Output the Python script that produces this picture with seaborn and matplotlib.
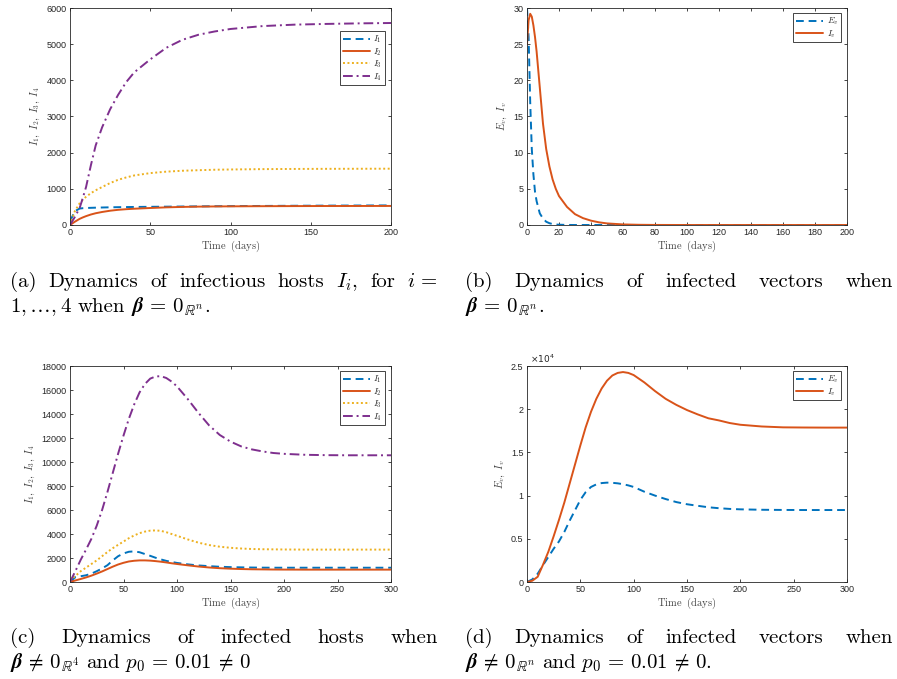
import numpy as np
import matplotlib
matplotlib.use("Agg")
import matplotlib.pyplot as plt
from matplotlib.ticker import FuncFormatter
import seaborn as sns

# ----------------------------
# Data
# ----------------------------
# (a) infectious hosts, beta = 0
t_a = [0, 3, 6, 8, 10, 13, 16, 20, 25, 30, 35, 40, 50, 60, 70, 80, 90, 100, 120, 140, 160, 180, 200]
I1_a = [100, 380, 455, 465, 470, 475, 479, 484, 489, 493, 496, 499, 503, 507, 511, 515, 519, 522, 527, 532, 536, 539, 542]
I2_a = [0, 90, 170, 210, 245, 290, 325, 360, 395, 420, 437, 450, 470, 488, 500, 508, 513, 516, 520, 523, 525, 526, 527]
I3_a = [0, 380, 600, 700, 780, 880, 960, 1050, 1160, 1250, 1315, 1370, 1435, 1475, 1500, 1515, 1528, 1535, 1545, 1550, 1553, 1555, 1557]
I4_a = [0, 220, 470, 750, 1050, 1650, 2200, 2700, 3200, 3600, 3950, 4220, 4580, 4900, 5120, 5260, 5350, 5420, 5500, 5540, 5560, 5575, 5585]

# (b) infected vectors, beta = 0
t_b = [0, 1, 2, 3, 4, 5, 6, 8, 10, 12, 14, 16, 18, 20, 25, 30, 35, 40, 45, 50, 60, 70, 80, 100, 120, 140, 160, 180, 200]
Ev_b = [30, 26, 17, 10.5, 7, 4.6, 3.3, 1.6, 0.9, 0.45, 0.25, 0.13, 0.07, 0.04, 0.01, 0, 0, 0, 0, 0, 0, 0, 0, 0, 0, 0, 0, 0, 0]
Iv_b = [25, 28.3, 29.2, 28.8, 27.6, 26, 24, 19, 14, 10.5, 8.1, 6.3, 5.0, 4.0, 2.5, 1.5, 0.95, 0.6, 0.37, 0.22, 0.08, 0.03, 0.01, 0, 0, 0, 0, 0, 0]

# (c) infected hosts, beta != 0
t_c = [0, 5, 10, 15, 20, 25, 30, 35, 40, 45, 50, 55, 60, 65, 70, 75, 80, 85, 90, 95, 100,
       110, 120, 130, 140, 150, 160, 170, 180, 190, 200, 220, 240, 260, 280, 300]
I1_c = [0, 400, 480, 560, 700, 900, 1130, 1400, 1800, 2150, 2380, 2520, 2550, 2480, 2330, 2180, 2020, 1880, 1760, 1670, 1590,
        1470, 1380, 1320, 1270, 1240, 1220, 1205, 1195, 1190, 1190, 1190, 1190, 1190, 1190, 1190]
I2_c = [0, 130, 250, 380, 530, 700, 880, 1080, 1280, 1460, 1600, 1710, 1770, 1800, 1800, 1780, 1740, 1690, 1630, 1560, 1500,
        1390, 1290, 1210, 1150, 1110, 1080, 1060, 1050, 1040, 1035, 1030, 1030, 1030, 1030, 1030]
I3_c = [100, 500, 900, 1200, 1500, 1800, 2150, 2500, 2820, 3100, 3370, 3650, 3880, 4070, 4200, 4280, 4300, 4260, 4150, 4000, 3850,
        3550, 3280, 3080, 2940, 2850, 2790, 2750, 2730, 2720, 2710, 2700, 2700, 2700, 2700, 2700]
I4_c = [0, 900, 1850, 2700, 3600, 4700, 6000, 7500, 9100, 10700, 12200, 13600, 14800, 15800, 16500, 16950, 17130, 17150, 17000, 16700, 16300,
        15250, 14100, 13050, 12250, 11700, 11300, 11050, 10880, 10750, 10680, 10600, 10570, 10560, 10560, 10560]

# (d) infected vectors, beta != 0
t_d = t_c
Ev_d = [0, 300, 950, 1950, 2900, 3850, 4700, 5800, 7100, 8300, 9500, 10400, 11000, 11300, 11450, 11500, 11480, 11420, 11320, 11180, 11000,
        10450, 10000, 9600, 9250, 9000, 8820, 8650, 8540, 8460, 8410, 8360, 8340, 8330, 8330, 8330]
Iv_d = [0, 150, 600, 2000, 3500, 5300, 7200, 9200, 11400, 13600, 15800, 17900, 19700, 21200, 22400, 23300, 23900, 24200, 24300, 24200, 23950,
        23100, 22100, 21200, 20500, 19900, 19400, 18950, 18700, 18400, 18200, 18000, 17900, 17880, 17870, 17870]

# ----------------------------
# Style
# ----------------------------
sns.set_style("ticks")
plt.rcParams["font.family"] = ["Liberation Sans", "DejaVu Sans"]
plt.rcParams["mathtext.fontset"] = "cm"

BLUE, ORANGE, YELLOW, PURPLE = "#0072BD", "#D95319", "#EDB120", "#7E2F8E"
DARK = "#262626"
DASH = (0, (4, 2.5))
DOT = (0, (1, 1.3))
DASHDOT = (0, (5, 2, 1, 2))
LW = 1.4

W, H = 897, 679
fig = plt.figure(figsize=(W / 100, H / 100), dpi=100)


def add_ax(x0, y0, x1, y1):
    return fig.add_axes([x0 / W, 1 - y1 / H, (x1 - x0) / W, (y1 - y0) / H])


def style(ax, xmax, xstep, ymax, ystep, ylabel):
    ax.set_xlim(0, xmax)
    ax.set_ylim(0, ymax)
    ax.set_xticks(np.arange(0, xmax + 1, xstep))
    ax.set_yticks(np.arange(0, ymax + 1, ystep))
    ax.tick_params(direction="in", top=True, right=True, length=2.5, width=0.6,
                   labelsize=6.5, colors=DARK, pad=2.5)
    for s in ax.spines.values():
        s.set_visible(True)
        s.set_linewidth(0.6)
        s.set_color(DARK)
    ax.set_xlabel(r"$\mathrm{Time\ \ (days)}$", fontsize=7.5, labelpad=1, color="#404040")
    ax.set_ylabel(ylabel, fontsize=7.5, labelpad=3, color="#404040")


def legend(ax, anchor=(0.981, 0.977)):
    leg = ax.legend(loc="upper right", bbox_to_anchor=anchor, borderaxespad=0,
                    fontsize=6.5, fancybox=False, framealpha=1, edgecolor=DARK,
                    handlelength=3.0, handletextpad=0.4, borderpad=0.3, labelspacing=0.1)
    leg.get_frame().set_linewidth(0.6)
    return leg


host_styles = [(BLUE, DASH), (ORANGE, "-"), (YELLOW, DOT), (PURPLE, DASHDOT)]
host_labels = [r"$I_1$", r"$I_2$", r"$I_3$", r"$I_4$"]

# (a)
ax = add_ax(70, 8, 391, 225)
for (c, ls), lab, y in zip(host_styles, host_labels, [I1_a, I2_a, I3_a, I4_a]):
    sns.lineplot(x=t_a, y=y, ax=ax, color=c, linestyle=ls, linewidth=LW, label=lab)
style(ax, 200, 50, 6000, 1000, r"$I_1,\ I_2,\ I_3,\ I_4$")
legend(ax, (0.981, 0.894))

# (b)
ax = add_ax(527, 8, 847, 225)
sns.lineplot(x=t_b, y=Ev_b, ax=ax, color=BLUE, linestyle=DASH, linewidth=LW, label=r"$E_v$")
sns.lineplot(x=t_b, y=Iv_b, ax=ax, color=ORANGE, linestyle="-", linewidth=LW, label=r"$I_v$")
style(ax, 200, 20, 30, 5, r"$E_v,\ I_v$")
legend(ax)

# (c)
ax = add_ax(70, 366, 391, 582)
for (c, ls), lab, y in zip(host_styles, host_labels, [I1_c, I2_c, I3_c, I4_c]):
    sns.lineplot(x=t_c, y=y, ax=ax, color=c, linestyle=ls, linewidth=LW, label=lab)
style(ax, 300, 50, 18000, 2000, r"$I_1,\ I_2,\ I_3,\ I_4$")
legend(ax)

# (d)
ax = add_ax(527, 366, 847, 582)
sns.lineplot(x=t_d, y=Ev_d, ax=ax, color=BLUE, linestyle=DASH, linewidth=LW, label=r"$E_v$")
sns.lineplot(x=t_d, y=Iv_d, ax=ax, color=ORANGE, linestyle="-", linewidth=LW, label=r"$I_v$")
style(ax, 300, 50, 25000, 5000, r"$E_v,\ I_v$")
ax.yaxis.set_major_formatter(FuncFormatter(lambda v, p: f"{v / 1e4:g}"))
ax.text(0.01, 1.004, r"$\times10^{4}$", transform=ax.transAxes, fontsize=6.5,
        color=DARK, ha="left", va="bottom", math_fontfamily="dejavusans")
legend(ax)

# ----------------------------
# Sub-captions (justified like LaTeX)
# ----------------------------
renderer = fig.canvas.get_renderer()
CAP = dict(fontsize=15, family="cmr10", color="black", va="baseline", ha="left")


def caption_line(words, x0, x1, y, justify=True):
    texts = [fig.text(0, 1 - y / H, w, **CAP) for w in words]
    widths = [t.get_window_extent(renderer).width for t in texts]
    if justify and len(words) > 1:
        gap = (x1 - x0 - sum(widths)) / (len(words) - 1)
    else:
        gap = 6
    x = x0
    for t, w in zip(texts, widths):
        t.set_x(x / W)
        x += w + gap


B0n = r"$\boldsymbol{\beta}\,=\,\boldsymbol{0}_{\mathbb{R}^n}$"
caption_line(["(a)", "Dynamics", "of", "infectious", "hosts", r"$I_i$,", "for", r"$i\,=$"], 10, 438, 287)
caption_line([r"$1,\ldots,4$", "when", B0n + "."], 10, 438, 312, justify=False)
caption_line(["(b)", "Dynamics", "of", "infected", "vectors", "when"], 465, 893, 287)
caption_line([B0n + "."], 465, 893, 312, justify=False)
caption_line(["(c)", "Dynamics", "of", "infected", "hosts", "when"], 10, 438, 643)
caption_line([r"$\boldsymbol{\beta}\,\neq\,\boldsymbol{0}_{\mathbb{R}^4}$", "and", r"$p_0\,=\,0.01\,\neq\,0$"], 10, 438, 668, justify=False)
caption_line(["(d)", "Dynamics", "of", "infected", "vectors", "when"], 465, 893, 643)
caption_line([r"$\boldsymbol{\beta}\,\neq\,\boldsymbol{0}_{\mathbb{R}^n}$", "and", r"$p_0\,=\,0.01\,\neq\,0.$"], 465, 893, 668, justify=False)

fig.savefig("out.png", dpi=100)
